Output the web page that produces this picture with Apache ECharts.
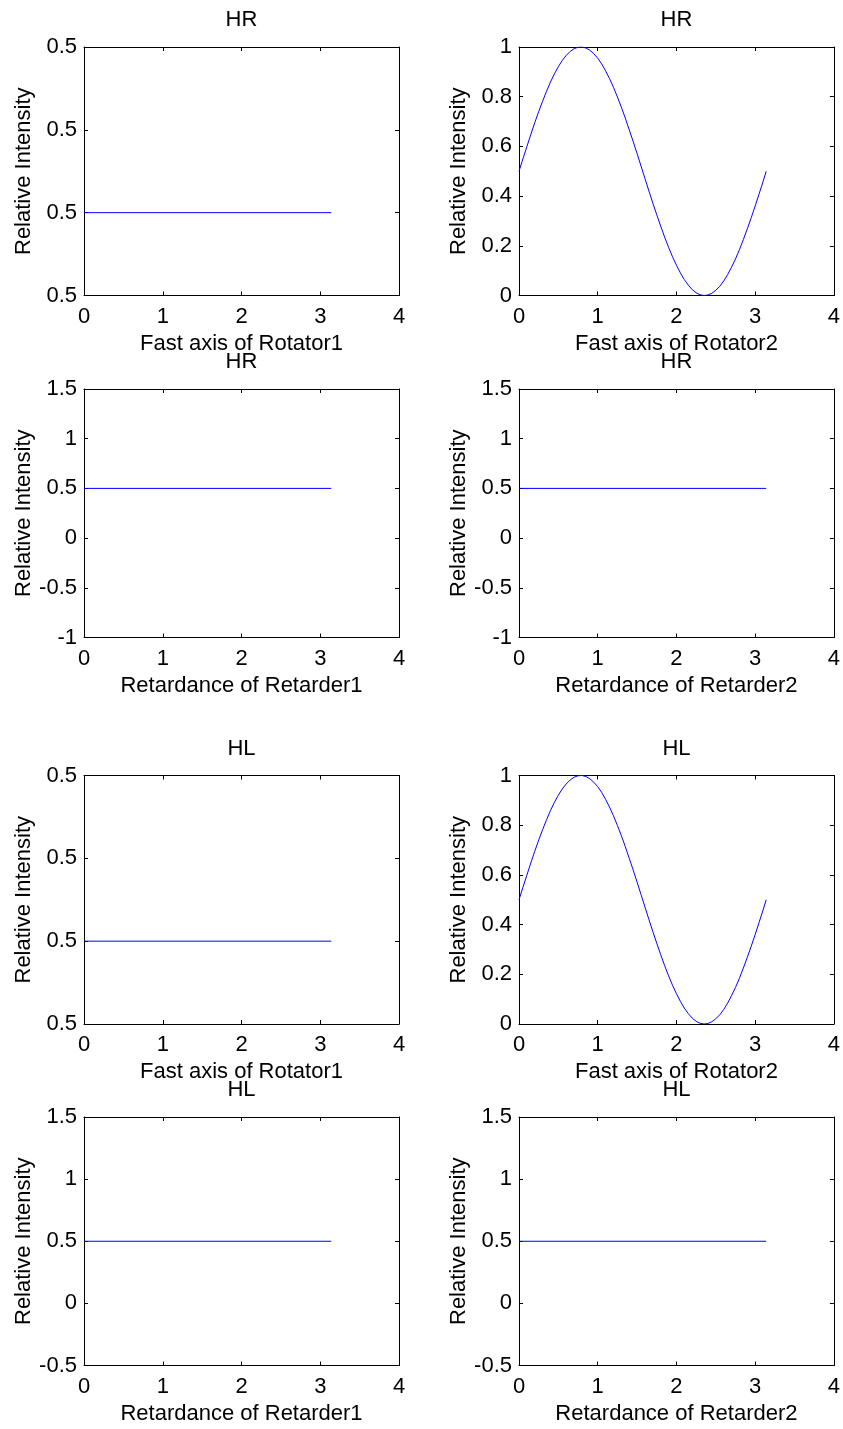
<!DOCTYPE html>
<html>
<head>
<meta charset="utf-8">
<script src="https://cdn.jsdelivr.net/npm/echarts@6/dist/echarts.min.js"></script>
<style>
  html, body { margin: 0; padding: 0; background: #fff; }
  #chart { width: 843px; height: 1429px; }
</style>
</head>
<body>
<div id="chart"></div>
<script>
// Constant intensity traces (rotator 1 and both retarder sweeps)
const flatX = [0, 3.14];
const flatY = [0.5, 0.5];

// Intensity versus the fast-axis angle of rotator 2
const sineX = [0, 0.05, 0.1, 0.15, 0.2, 0.25, 0.3, 0.35, 0.4, 0.45, 0.5, 0.55, 0.6, 0.65, 0.7, 0.75,
  0.8, 0.85, 0.9, 0.95, 1.0, 1.05, 1.1, 1.15, 1.2, 1.25, 1.3, 1.35, 1.4, 1.45, 1.5, 1.55,
  1.6, 1.65, 1.7, 1.75, 1.8, 1.85, 1.9, 1.95, 2.0, 2.05, 2.1, 2.15, 2.2, 2.25, 2.3, 2.35,
  2.4, 2.45, 2.5, 2.55, 2.6, 2.65, 2.7, 2.75, 2.8, 2.85, 2.9, 2.95, 3.0, 3.05, 3.1, 3.14];
const sineY = [0.500, 0.550, 0.599, 0.648, 0.695, 0.740, 0.782, 0.822, 0.859, 0.892, 0.921, 0.946, 0.966, 0.982, 0.993, 0.999,
  1.000, 0.996, 0.987, 0.973, 0.955, 0.932, 0.904, 0.873, 0.838, 0.799, 0.758, 0.714, 0.667, 0.620, 0.571, 0.521,
  0.471, 0.421, 0.372, 0.325, 0.279, 0.235, 0.194, 0.156, 0.122, 0.091, 0.064, 0.042, 0.024, 0.011, 0.003, 0.000,
  0.002, 0.009, 0.021, 0.037, 0.058, 0.084, 0.114, 0.147, 0.184, 0.225, 0.268, 0.313, 0.360, 0.409, 0.458, 0.500];

// Panel titles and axis names
const panelTitles = ['HR', 'HR', 'HR', 'HR', 'HL', 'HL', 'HL', 'HL'];
const xNames = ['Fast axis of Rotator1', 'Fast axis of Rotator2',
  'Retardance of Retarder1', 'Retardance of Retarder2',
  'Fast axis of Rotator1', 'Fast axis of Rotator2',
  'Retardance of Retarder1', 'Retardance of Retarder2'];
const yName = 'Relative Intensity';

// x axis range shared by every panel
const xRange = { min: 0, max: 4, interval: 1 };

// y axis ranges per panel (a constant trace gets a tiny range around its value)
const yRanges = [
  { min: 0.499, max: 0.502, interval: 0.001 }, { min: 0, max: 1, interval: 0.2 },
  { min: -1, max: 1.5, interval: 0.5 }, { min: -1, max: 1.5, interval: 0.5 },
  { min: 0.499, max: 0.502, interval: 0.001 }, { min: 0, max: 1, interval: 0.2 },
  { min: -0.5, max: 1.5, interval: 0.5 }, { min: -0.5, max: 1.5, interval: 0.5 }
];
const traces = ['flat', 'sine', 'flat', 'flat', 'flat', 'sine', 'flat', 'flat'];

const FONT = '"Liberation Sans", Arial, Helvetica, sans-serif';
const FS = 22;
const colLeft = [84, 519];
const rowTop = [47, 389, 775.5, 1117];
const plotW = 315, plotH = 248.5;
const lineColor = '#0000ff';

function fmtLabel(v, step) {
  if (step < 0.01) return v.toFixed(1);
  return String(Math.round(v * 1000) / 1000);
}

const grid = [], xAxis = [], yAxis = [], series = [], title = [];
for (let i = 0; i < 8; i++) {
  const r = Math.floor(i / 2), c = i % 2;
  const left = colLeft[c], top = rowTop[r];
  grid.push({ left: left, top: top, width: plotW, height: plotH, containLabel: false });
  const yr = yRanges[i];
  const axisLine = { show: true, onZero: false, lineStyle: { color: '#000', width: 1 } };
  const tick = { show: true, inside: true, length: 4, lineStyle: { color: '#000', width: 1 } };
  xAxis.push({
    type: 'value', gridIndex: i, position: 'bottom', min: xRange.min, max: xRange.max, interval: xRange.interval,
    axisLine: axisLine, axisTick: tick, splitLine: { show: false },
    axisLabel: { color: '#000', fontFamily: FONT, fontSize: FS, margin: 10 },
    name: xNames[i], nameLocation: 'middle', nameGap: 37,
    nameTextStyle: { color: '#000', fontFamily: FONT, fontSize: FS }
  });
  xAxis.push({
    type: 'value', gridIndex: i, position: 'top', min: xRange.min, max: xRange.max, interval: xRange.interval,
    axisLine: axisLine, axisTick: tick, splitLine: { show: false }, axisLabel: { show: false }
  });
  yAxis.push({
    type: 'value', gridIndex: i, position: 'left', min: yr.min, max: yr.max, interval: yr.interval,
    axisLine: axisLine, axisTick: tick, splitLine: { show: false },
    axisLabel: { color: '#000', fontFamily: FONT, fontSize: FS, margin: 7,
      formatter: (v) => fmtLabel(v, yr.interval) },
    name: yName, nameLocation: 'middle', nameGap: 49,
    nameTextStyle: { color: '#000', fontFamily: FONT, fontSize: FS }
  });
  yAxis.push({
    type: 'value', gridIndex: i, position: 'right', min: yr.min, max: yr.max, interval: yr.interval,
    axisLine: axisLine, axisTick: tick, splitLine: { show: false }, axisLabel: { show: false }
  });
  const xs = traces[i] === 'sine' ? sineX : flatX;
  const ys = traces[i] === 'sine' ? sineY : flatY;
  series.push({
    type: 'line', xAxisIndex: 2 * i, yAxisIndex: 2 * i,
    data: xs.map((x, k) => [x, ys[k]]),
    showSymbol: false, symbol: 'none', smooth: false,
    lineStyle: { color: lineColor, width: 1 }, animation: false
  });
  title.push({
    text: panelTitles[i], left: left + plotW / 2, top: top - 38, textAlign: 'center', padding: 0,
    textStyle: { color: '#000', fontFamily: FONT, fontSize: FS, fontWeight: 'normal' }
  });
}

const chart = echarts.init(document.getElementById('chart'), null, { renderer: 'canvas' });
chart.setOption({
  backgroundColor: '#fff',
  animation: false,
  title: title,
  grid: grid,
  xAxis: xAxis,
  yAxis: yAxis,
  series: series
});
</script>
</body>
</html>
